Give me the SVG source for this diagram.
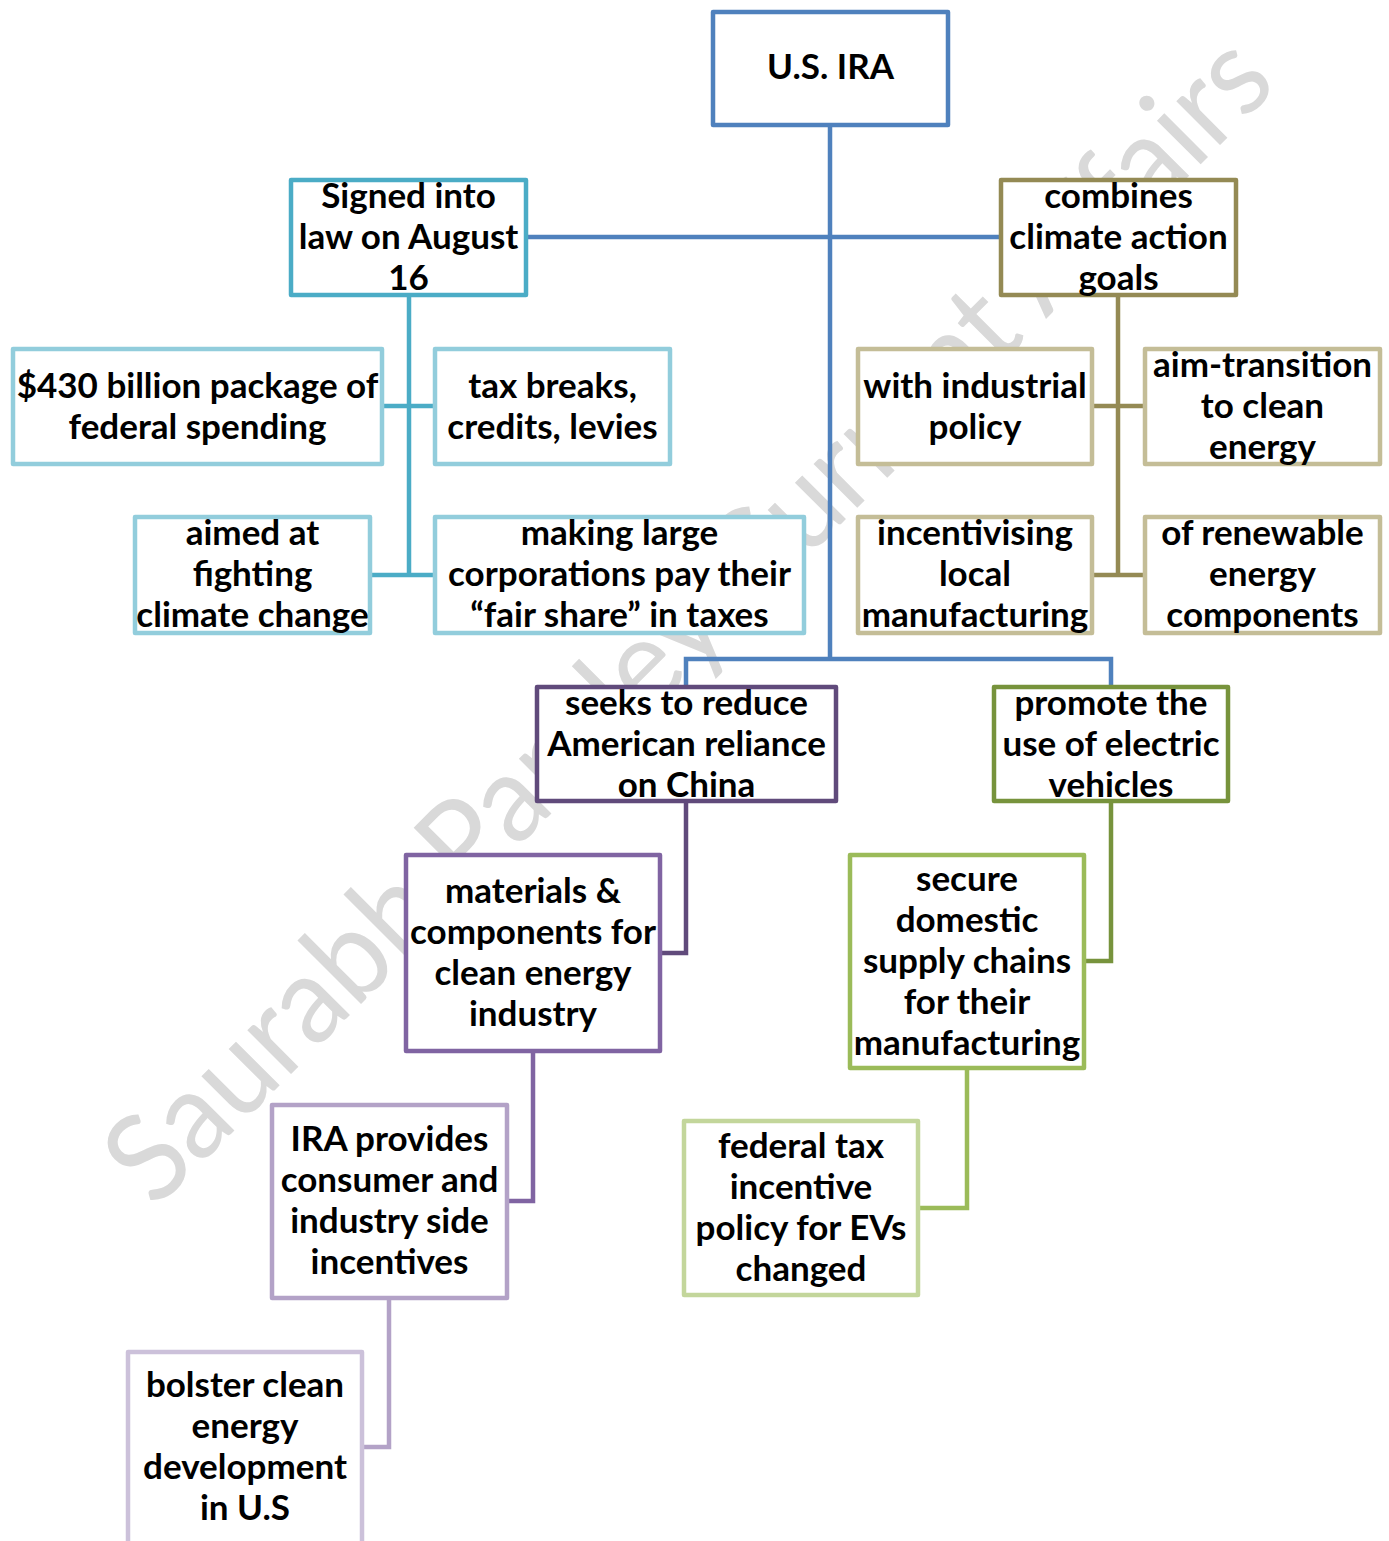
<svg xmlns="http://www.w3.org/2000/svg" width="1389" height="1541" viewBox="0 0 1389 1541">
<style>
  .box { fill: #ffffff; stroke-width: 4.5; stroke-linejoin: round; }
  .lbl { font-family: Lato, "Open Sans", "Liberation Sans", sans-serif; font-weight: 700; font-size: 35px; fill: #000000; text-anchor: middle; }
  .con { fill: none; stroke-width: 4.5; stroke-linejoin: miter; }
  .wm { font-family: Lato, "Open Sans", "Liberation Sans", sans-serif; font-weight: 400; font-size: 122px; fill: #d9d9d9; }
</style>
<rect x="0" y="0" width="1389" height="1541" fill="#ffffff"/>
<text class="wm" x="155" y="1210" transform="rotate(-45 155 1210)" textLength="1590" lengthAdjust="spacingAndGlyphs">Saurabh Pandey Current Affairs</text>
<g id="connectors">
  <path class="con" stroke="#4F81BD" d="M830,127 V659 M528,237 H999 M686,685 V659 H1111 V685"/>
  <path class="con" stroke="#4BACC6" d="M409,297 V575 M384,406 H433 M372,575 H433"/>
  <path class="con" stroke="#948A54" d="M1118,297 V575 M1094,406 H1143 M1094,575 H1143"/>
  <path class="con" stroke="#604A7B" d="M686,803 V953 H662"/>
  <path class="con" stroke="#77933C" d="M1111,803 V961 H1086"/>
  <path class="con" stroke="#8064A2" d="M533,1053 V1201 H509"/>
  <path class="con" stroke="#9BBB59" d="M967,1070 V1208 H920"/>
  <path class="con" stroke="#B3A2C7" d="M389,1300 V1447 H364"/>
</g>
<g id="n-usira">
  <rect class="box" stroke="#4F81BD" x="713" y="12" width="235" height="113"/>
  <text class="lbl" x="830.5" y="79">U.S. IRA</text>
</g>
<g id="n-signed">
  <rect class="box" stroke="#4BACC6" x="291" y="180" width="235" height="115"/>
  <text class="lbl" x="408.5" y="208">Signed into</text>
  <text class="lbl" x="408.5" y="249">law on August</text>
  <text class="lbl" x="408.5" y="290">16</text>
</g>
<g id="n-combines">
  <rect class="box" stroke="#948A54" x="1001" y="180" width="235" height="115"/>
  <text class="lbl" x="1118.5" y="208">combines</text>
  <text class="lbl" x="1118.5" y="249">climate action</text>
  <text class="lbl" x="1118.5" y="290">goals</text>
</g>
<g id="n-430">
  <rect class="box" stroke="#92CDDC" x="13" y="349" width="369" height="115"/>
  <text class="lbl" x="197.5" y="398">$430 billion package of</text>
  <text class="lbl" x="197.5" y="439">federal spending</text>
</g>
<g id="n-tax">
  <rect class="box" stroke="#92CDDC" x="435" y="349" width="235" height="115"/>
  <text class="lbl" x="552.5" y="398">tax breaks,</text>
  <text class="lbl" x="552.5" y="439">credits, levies</text>
</g>
<g id="n-aimed">
  <rect class="box" stroke="#92CDDC" x="135" y="517" width="235" height="116"/>
  <text class="lbl" x="252.5" y="545">aimed at</text>
  <text class="lbl" x="252.5" y="586">fighting</text>
  <text class="lbl" x="252.5" y="627">climate change</text>
</g>
<g id="n-making">
  <rect class="box" stroke="#92CDDC" x="435" y="517" width="369" height="116"/>
  <text class="lbl" x="619.5" y="545">making large</text>
  <text class="lbl" x="619.5" y="586">corporations pay their</text>
  <text class="lbl" x="619.5" y="627">“fair share” in taxes</text>
</g>
<g id="n-withind">
  <rect class="box" stroke="#C4BD97" x="858" y="349" width="234" height="115"/>
  <text class="lbl" x="975" y="398">with industrial</text>
  <text class="lbl" x="975" y="439">policy</text>
</g>
<g id="n-aimtrans">
  <rect class="box" stroke="#C4BD97" x="1145" y="349" width="235" height="115"/>
  <text class="lbl" x="1262.5" y="377">aim-transition</text>
  <text class="lbl" x="1262.5" y="418">to clean</text>
  <text class="lbl" x="1262.5" y="459">energy</text>
</g>
<g id="n-incent">
  <rect class="box" stroke="#C4BD97" x="858" y="517" width="234" height="116"/>
  <text class="lbl" x="975" y="545">incentivising</text>
  <text class="lbl" x="975" y="586">local</text>
  <text class="lbl" x="975" y="627">manufacturing</text>
</g>
<g id="n-renew">
  <rect class="box" stroke="#C4BD97" x="1145" y="517" width="235" height="116"/>
  <text class="lbl" x="1262.5" y="545">of renewable</text>
  <text class="lbl" x="1262.5" y="586">energy</text>
  <text class="lbl" x="1262.5" y="627">components</text>
</g>
<g id="n-seeks">
  <rect class="box" stroke="#604A7B" x="537" y="687" width="299" height="114"/>
  <text class="lbl" x="686.5" y="715">seeks to reduce</text>
  <text class="lbl" x="686.5" y="756">American reliance</text>
  <text class="lbl" x="686.5" y="797">on China</text>
</g>
<g id="n-promote">
  <rect class="box" stroke="#77933C" x="994" y="687" width="234" height="114"/>
  <text class="lbl" x="1111" y="715">promote the</text>
  <text class="lbl" x="1111" y="756">use of electric</text>
  <text class="lbl" x="1111" y="797">vehicles</text>
</g>
<g id="n-materials">
  <rect class="box" stroke="#8064A2" x="406" y="855" width="254" height="196"/>
  <text class="lbl" x="533" y="903">materials &amp;</text>
  <text class="lbl" x="533" y="944">components for</text>
  <text class="lbl" x="533" y="985">clean energy</text>
  <text class="lbl" x="533" y="1026">industry</text>
</g>
<g id="n-secure">
  <rect class="box" stroke="#9BBB59" x="850" y="855" width="234" height="213"/>
  <text class="lbl" x="967" y="891">secure</text>
  <text class="lbl" x="967" y="932">domestic</text>
  <text class="lbl" x="967" y="973">supply chains</text>
  <text class="lbl" x="967" y="1014">for their</text>
  <text class="lbl" x="967" y="1055">manufacturing</text>
</g>
<g id="n-iraprov">
  <rect class="box" stroke="#B3A2C7" x="272" y="1105" width="235" height="193"/>
  <text class="lbl" x="389.5" y="1151">IRA provides</text>
  <text class="lbl" x="389.5" y="1192">consumer and</text>
  <text class="lbl" x="389.5" y="1233">industry side</text>
  <text class="lbl" x="389.5" y="1274">incentives</text>
</g>
<g id="n-federal">
  <rect class="box" stroke="#C3D69B" x="684" y="1121" width="234" height="174"/>
  <text class="lbl" x="801" y="1158">federal tax</text>
  <text class="lbl" x="801" y="1199">incentive</text>
  <text class="lbl" x="801" y="1240">policy for EVs</text>
  <text class="lbl" x="801" y="1281">changed</text>
</g>
<g id="n-bolster">
  <rect class="box" stroke="#CCC1DA" x="128" y="1352" width="234" height="220"/>
  <text class="lbl" x="245" y="1397">bolster clean</text>
  <text class="lbl" x="245" y="1438">energy</text>
  <text class="lbl" x="245" y="1479">development</text>
  <text class="lbl" x="245" y="1520">in U.S</text>
</g>
</svg>
